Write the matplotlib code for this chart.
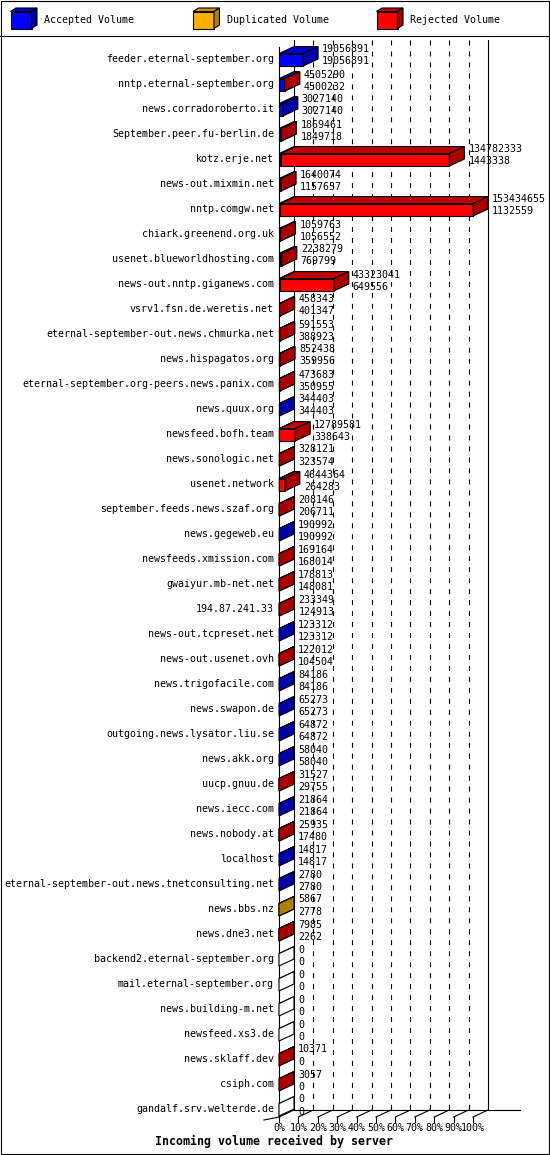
import matplotlib
matplotlib.use("Agg")
import matplotlib.pyplot as plt
from matplotlib.patches import Polygon, Rectangle

plt.rcParams['lines.scale_dashes'] = False

servers = [
    "feeder.eternal-september.org", "nntp.eternal-september.org", "news.corradoroberto.it",
    "September.peer.fu-berlin.de", "kotz.erje.net", "news-out.mixmin.net", "nntp.comgw.net",
    "chiark.greenend.org.uk", "usenet.blueworldhosting.com", "news-out.nntp.giganews.com",
    "vsrv1.fsn.de.weretis.net", "eternal-september-out.news.chmurka.net", "news.hispagatos.org",
    "eternal-september.org-peers.news.panix.com", "news.quux.org", "newsfeed.bofh.team",
    "news.sonologic.net", "usenet.network", "september.feeds.news.szaf.org", "news.gegeweb.eu",
    "newsfeeds.xmission.com", "gwaiyur.mb-net.net", "194.87.241.33", "news-out.tcpreset.net",
    "news-out.usenet.ovh", "news.trigofacile.com", "news.swapon.de", "outgoing.news.lysator.liu.se",
    "news.akk.org", "uucp.gnuu.de", "news.iecc.com", "news.nobody.at", "localhost",
    "eternal-september-out.news.tnetconsulting.net", "news.bbs.nz", "news.dne3.net",
    "backend2.eternal-september.org", "mail.eternal-september.org", "news.building-m.net",
    "newsfeed.xs3.de", "news.sklaff.dev", "csiph.com", "gandalf.srv.welterde.de",
]
total_volume = [
    19056891, 4505290, 3027140, 1869461, 134782333, 1640074, 153434655, 1059763, 2238279,
    43323041, 458343, 591553, 852438, 473683, 344403, 12789581, 328121, 4644364, 208146,
    190992, 169164, 178813, 233349, 123312, 122012, 84186, 65273, 64872, 58040, 31527,
    21864, 25935, 14817, 2780, 5867, 7985, 0, 0, 0, 0, 10371, 3057, 0,
]
accepted_volume = [
    19056891, 4500232, 3027140, 1849718, 1443338, 1157657, 1132559, 1056552, 769799,
    649556, 401347, 388923, 359956, 350955, 344403, 338643, 323574, 264283, 206711,
    190992, 168014, 148081, 124913, 123312, 104504, 84186, 65273, 64872, 58040, 29755,
    21864, 17480, 14817, 2780, 2778, 2262, 0, 0, 0, 0, 0, 0, 0,
]
duplicated_volume = [0] * len(servers)
duplicated_volume[servers.index("news.bbs.nz")] = 3089
rejected_volume = [t - a - d for t, a, d in zip(total_volume, accepted_volume, duplicated_volume)]

legend_labels = ["Accepted Volume", "Duplicated Volume", "Rejected Volume"]
front_cols = ["#0000FF", "#FFB000", "#FF0000"]
top_cols = ["#0000D0", "#D89400", "#C00000"]
side_cols = ["#0000A8", "#B08000", "#A80000"]
tick_labels = ["0%", "10%", "20%", "30%", "40%", "50%", "60%", "70%", "80%", "90%", "100%"]
title = "Incoming volume received by server"

W, H = 550, 1155
fig = plt.figure(figsize=(W / 100, H / 100), dpi=100)
fig.patch.set_facecolor("white")
MONO = "DejaVu Sans Mono"
FS = 7.2

# overlay for frame + legend (pixel coordinates)
bg = fig.add_axes([0, 0, 1, 1])
bg.set_xlim(0, W)
bg.set_ylim(H, 0)
bg.axis("off")
bg.add_patch(Rectangle((0.5, 0.5), W - 1.5, H - 1.5, fill=False, ec="black", lw=0.8))
bg.plot([0, W], [36, 36], color="black", lw=0.8)
leg_x = [10.5, 193, 376.5]
for lx, lab, fc, tc, sc in zip(leg_x, legend_labels, front_cols, top_cols, side_cols):
    w, h, ddx, ddy, y0 = 21, 17, 5.5, 3.5, 11.5
    bg.add_patch(Polygon([(lx, y0), (lx + w, y0), (lx + w, y0 + h), (lx, y0 + h)], fc=fc, ec="black", lw=0.8))
    bg.add_patch(Polygon([(lx, y0), (lx + w, y0), (lx + w + ddx, y0 - ddy), (lx + ddx, y0 - ddy)], fc=tc, ec="black", lw=0.8))
    bg.add_patch(Polygon([(lx + w, y0), (lx + w + ddx, y0 - ddy), (lx + w + ddx, y0 + h - ddy), (lx + w, y0 + h)], fc=sc, ec="black", lw=0.8))
    bg.text(lx + w + ddx + 7.5, 20, lab, fontsize=FS, family=MONO, va="center", ha="left")

# main chart axes: x in percent, y in row index
x0px, x1px = 279, 473
ytop_px, ybot_px = 47, 1117
row0_px, row_step = 59, 25
ax = fig.add_axes([x0px / W, 1 - ybot_px / H, (x1px - x0px) / W, (ybot_px - ytop_px) / H])
pct_per_px = 100 / (x1px - x0px)
ytop = (ytop_px - row0_px) / row_step
ybot = (ybot_px - row0_px) / row_step
ax.set_xlim(0, 100)
ax.set_ylim(ybot, ytop)
ax.axis("off")

DX = 15 * pct_per_px
DY = 7 / row_step
LW = 0.8

# back wall grid
for k in range(1, 10):
    ax.plot([10 * k + DX, 10 * k + DX], [ytop - DY, ybot - DY], color="black", lw=LW,
            dashes=(3.6, 4.3), clip_on=False, zorder=1)
for xb in (DX, 100 + DX):
    ax.plot([xb, xb], [ytop - DY, ybot - DY], color="black", lw=LW, clip_on=False, zorder=1)
ax.plot([0, 0], [ytop, ybot], color="black", lw=LW, clip_on=False, zorder=1)
# floor
ax.plot([DX, (520 - x0px) * pct_per_px], [ybot - DY, ybot - DY], color="black", lw=LW, clip_on=False, zorder=1)
ax.plot([-15 * pct_per_px, 0], [ybot + 3 / row_step, ybot], color="black", lw=LW, clip_on=False, zorder=1)
for k in range(11):
    p = 10 * k
    ax.plot([p, p + DX], [ybot, ybot - DY], color="black", lw=LW, clip_on=False, zorder=1)
    ax.plot([p, p], [ybot, ybot + 5 / row_step], color="black", lw=LW, clip_on=False, zorder=1)
    ax.text(p, ybot + 10.5 / row_step, tick_labels[k], fontsize=FS, family=MONO,
            ha="center", va="center", clip_on=False)

vmax = max(total_volume)
HH = 6.2 / row_step


def box(xa, xb, yc, fc, tc, sc, z):
    yt, yb = yc - HH, yc + HH
    ax.add_patch(Polygon([(xa, yt), (xb, yt), (xb, yb), (xa, yb)], closed=True, fc=fc, ec="black",
                         lw=LW, clip_on=False, zorder=z))
    ax.add_patch(Polygon([(xa, yt), (xb, yt), (xb + DX, yt - DY), (xa + DX, yt - DY)], closed=True,
                         fc=tc, ec="black", lw=LW, clip_on=False, zorder=z))
    ax.add_patch(Polygon([(xb, yt), (xb + DX, yt - DY), (xb + DX, yb - DY), (xb, yb)], closed=True,
                         fc=sc, ec="black", lw=LW, clip_on=False, zorder=z))


for i, name in enumerate(servers):
    yc = i + 0.8 / row_step
    segs = [accepted_volume[i], duplicated_volume[i], rejected_volume[i]]
    start = 0.0
    if total_volume[i] == 0:
        box(0, 0, yc, "white", "white", "white", 2)
    else:
        for j, v in enumerate(segs):
            if v <= 0:
                continue
            w = v / vmax * 100
            box(start, start + w, yc, front_cols[j], top_cols[j], side_cols[j], 2)
            start += w
    end = total_volume[i] / vmax * 100
    ax.text(-5 * pct_per_px, i, name, fontsize=FS, family=MONO, ha="right", va="center", clip_on=False)
    tx = end + DX + 4 * pct_per_px
    ax.text(tx, i - 9.5 / row_step, str(total_volume[i]), fontsize=FS, family=MONO, ha="left",
            va="center", clip_on=False, zorder=5)
    ax.text(tx, i + 2.5 / row_step, str(accepted_volume[i]), fontsize=FS, family=MONO, ha="left",
            va="center", clip_on=False, zorder=5)

fig.text(274 / W, 1 - 1141 / H, title, fontsize=8.4, family=MONO, weight="bold", ha="center", va="center")

fig.savefig("out.png", dpi=100, facecolor="white")
